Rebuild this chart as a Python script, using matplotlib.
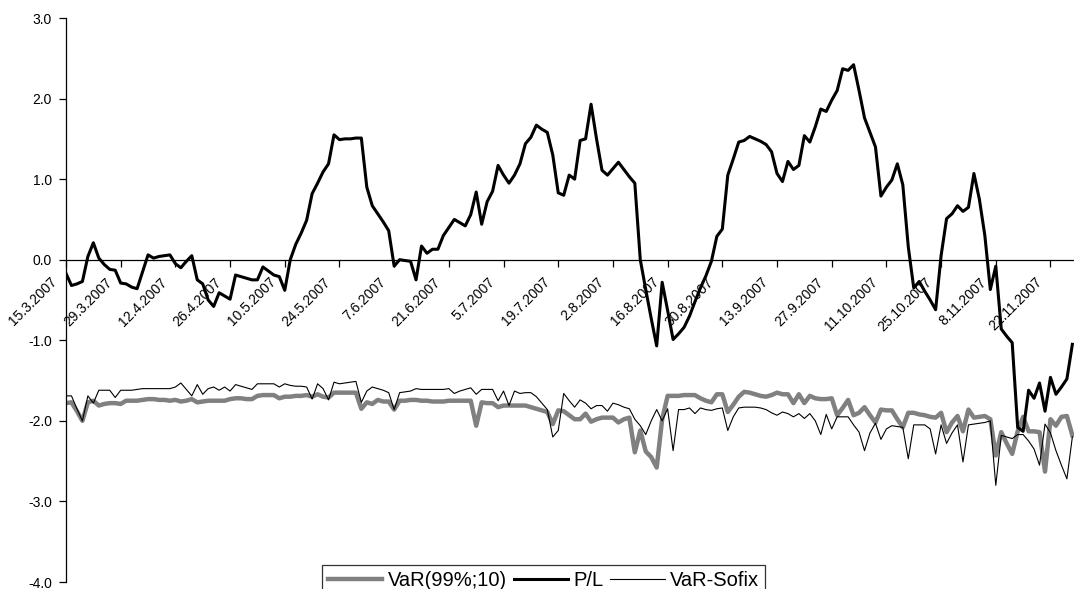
import matplotlib
matplotlib.use('Agg')
import matplotlib.pyplot as plt
import matplotlib.transforms as mtransforms
import numpy as np

# Tick labels (every 10 trading days, starting 15.3.2007)
tick_labels = ['15.3.2007', '29.3.2007', '12.4.2007', '26.4.2007', '10.5.2007',
               '24.5.2007', '7.6.2007', '21.6.2007', '5.7.2007', '19.7.2007',
               '2.8.2007', '16.8.2007', '30.8.2007', '13.9.2007', '27.9.2007',
               '11.10.2007', '25.10.2007', '8.11.2007', '22.11.2007']

# P/L series (one value per trading day)
pl = [-0.17, -0.32, -0.30, -0.27, 0.04, 0.21, 0.02, -0.06, -0.12, -0.13,
      -0.29, -0.30, -0.34, -0.36, -0.15, 0.06, 0.02, 0.04, 0.05, 0.06,
      -0.05, -0.10, -0.02, 0.05, -0.25, -0.30, -0.50, -0.58, -0.41, -0.45,
      -0.49, -0.19, -0.21, -0.23, -0.25, -0.25, -0.09, -0.14, -0.19, -0.21,
      -0.38, 0.00, 0.19, 0.33, 0.49, 0.82, 0.95, 1.09, 1.19, 1.55,
      1.49, 1.50, 1.50, 1.51, 1.51, 0.90, 0.67, 0.57, 0.47, 0.36,
      -0.08, 0.00, -0.01, -0.02, -0.25, 0.17, 0.08, 0.13, 0.13, 0.30,
      0.40, 0.50, 0.46, 0.42, 0.56, 0.84, 0.44, 0.72, 0.85, 1.17,
      1.05, 0.95, 1.05, 1.19, 1.44, 1.52, 1.67, 1.62, 1.58, 1.30,
      0.83, 0.80, 1.05, 1.00, 1.48, 1.50, 1.93, 1.50, 1.11, 1.05,
      1.13, 1.21, 1.12, 1.03, 0.95, 0.00, -0.37, -0.73, -1.07, -0.28,
      -0.63, -0.99, -0.92, -0.84, -0.70, -0.52, -0.35, -0.20, -0.02, 0.29,
      0.38, 1.05, 1.25, 1.46, 1.48, 1.53, 1.50, 1.47, 1.43, 1.34,
      1.07, 0.97, 1.22, 1.12, 1.17, 1.54, 1.46, 1.65, 1.87, 1.84,
      1.98, 2.10, 2.37, 2.35, 2.42, 2.10, 1.76, 1.58, 1.40, 0.79,
      0.90, 0.99, 1.19, 0.93, 0.16, -0.35, -0.27, -0.39, -0.50, -0.62,
      0.05, 0.51, 0.57, 0.67, 0.60, 0.65, 1.07, 0.75, 0.30, -0.37,
      -0.08, -0.86, -0.95, -1.03, -2.08, -2.13, -1.62, -1.72, -1.53, -1.88,
      -1.46, -1.67, -1.58, -1.48, -1.05]

# VaR(99%;10)
var_99 = [-1.78, -1.77, -1.88, -2.00, -1.77, -1.75, -1.81, -1.79, -1.78, -1.78,
          -1.79, -1.75, -1.75, -1.75, -1.74, -1.73, -1.73, -1.74, -1.74, -1.75,
          -1.74, -1.76, -1.75, -1.73, -1.77, -1.76, -1.75, -1.75, -1.75, -1.75,
          -1.73, -1.72, -1.72, -1.73, -1.73, -1.69, -1.68, -1.68, -1.68, -1.72,
          -1.70, -1.70, -1.69, -1.69, -1.68, -1.70, -1.67, -1.70, -1.71, -1.65,
          -1.65, -1.65, -1.65, -1.65, -1.85, -1.77, -1.79, -1.74, -1.76, -1.76,
          -1.86, -1.75, -1.75, -1.74, -1.74, -1.75, -1.75, -1.76, -1.76, -1.76,
          -1.75, -1.75, -1.75, -1.75, -1.75, -2.06, -1.77, -1.78, -1.78, -1.83,
          -1.81, -1.81, -1.81, -1.81, -1.81, -1.83, -1.85, -1.87, -1.89, -2.04,
          -1.87, -1.88, -1.93, -1.98, -1.98, -1.91, -2.01, -1.98, -1.96, -1.96,
          -1.96, -2.02, -1.98, -1.96, -2.39, -2.12, -2.38, -2.45, -2.58, -1.98,
          -1.69, -1.69, -1.69, -1.68, -1.68, -1.68, -1.72, -1.75, -1.77, -1.67,
          -1.67, -1.89, -1.80, -1.70, -1.64, -1.65, -1.67, -1.69, -1.70, -1.68,
          -1.65, -1.67, -1.67, -1.78, -1.67, -1.78, -1.69, -1.72, -1.73, -1.73,
          -1.72, -1.93, -1.84, -1.74, -1.93, -1.90, -1.83, -1.93, -2.02, -1.86,
          -1.87, -1.87, -1.98, -2.08, -1.90, -1.90, -1.92, -1.93, -1.95, -1.96,
          -1.90, -2.14, -2.02, -1.94, -2.13, -1.86, -1.96, -1.95, -1.94, -1.98,
          -2.43, -2.14, -2.28, -2.41, -2.13, -1.95, -2.13, -2.13, -2.14, -2.63,
          -1.98, -2.06, -1.95, -1.94, -2.18]

# VaR-Sofix
var_sofix = [-1.69, -1.69, -1.85, -2.00, -1.69, -1.78, -1.62, -1.62, -1.62, -1.71,
             -1.62, -1.62, -1.62, -1.61, -1.60, -1.60, -1.60, -1.60, -1.60, -1.60,
             -1.58, -1.53, -1.61, -1.69, -1.55, -1.67, -1.60, -1.58, -1.62, -1.58,
             -1.63, -1.55, -1.57, -1.59, -1.61, -1.54, -1.54, -1.54, -1.54, -1.58,
             -1.54, -1.56, -1.57, -1.57, -1.58, -1.73, -1.54, -1.60, -1.74, -1.52,
             -1.54, -1.53, -1.52, -1.51, -1.77, -1.63, -1.58, -1.60, -1.62, -1.65,
             -1.86, -1.65, -1.64, -1.63, -1.60, -1.61, -1.61, -1.61, -1.61, -1.61,
             -1.60, -1.66, -1.63, -1.61, -1.59, -1.67, -1.61, -1.61, -1.61, -1.75,
             -1.63, -1.81, -1.63, -1.66, -1.65, -1.65, -1.70, -1.78, -1.86, -2.20,
             -2.12, -1.66, -1.75, -1.83, -1.74, -1.78, -1.85, -1.81, -1.81, -1.88,
             -1.78, -1.80, -1.83, -1.85, -1.98, -2.06, -2.17, -2.00, -1.86, -2.00,
             -1.85, -2.37, -1.86, -1.86, -1.84, -1.91, -1.84, -1.86, -1.87, -1.85,
             -1.84, -2.12, -1.95, -1.84, -1.83, -1.83, -1.83, -1.84, -1.86, -1.90,
             -1.93, -1.89, -1.91, -1.95, -1.91, -1.97, -1.91, -2.00, -2.17, -1.92,
             -2.10, -1.95, -1.95, -1.95, -2.05, -2.14, -2.37, -2.15, -2.03, -2.23,
             -2.10, -2.06, -2.07, -2.08, -2.47, -2.05, -2.05, -2.05, -2.10, -2.41,
             -2.05, -2.28, -2.15, -2.05, -2.51, -2.05, -2.04, -2.03, -2.02, -2.00,
             -2.80, -2.18, -2.20, -2.22, -2.17, -2.17, -2.25, -2.35, -2.55, -2.04,
             -2.15, -2.37, -2.55, -2.72, -2.20]

plt.rcParams['font.family'] = ['Liberation Sans', 'DejaVu Sans']

fig = plt.figure(figsize=(10.74, 5.89), dpi=100)
# plot area: y axis at x=66 px, 3.0 at y=18 px, -4.0 at y=582 px
ax = fig.add_axes([66 / 1074, 7 / 589, 1 - 66 / 1074, 564 / 589])

x = np.arange(len(pl))
ax.plot(x, var_99, color='#808080', linewidth=3.2, label='VaR(99%;10)')
ax.plot(x, pl, color='black', linewidth=2.2, label='P/L')
ax.plot(x, var_sofix, color='black', linewidth=0.8, label='VaR-Sofix')

ax.set_xlim(0, len(pl) - 0.7)
ax.set_ylim(-4, 3)

# 軸線: y 軸在左邊, x 軸在 0
ax.spines['top'].set_visible(False)
ax.spines['right'].set_visible(False)
ax.spines['bottom'].set_position(('data', 0))
for sp in ['left', 'bottom']:
    ax.spines[sp].set_linewidth(0.9)

yticks = np.arange(-4, 3.5, 1.0)
ax.set_yticks(yticks)
ax.set_yticklabels([f'{v:.1f}' for v in yticks], fontsize=10)
ax.tick_params(axis='y', direction='out', length=5, width=0.9, pad=5)

ax.set_xticks(np.arange(0, 10 * len(tick_labels), 10))
ax.set_xticklabels(tick_labels, rotation=45, ha='right', fontsize=10)
ax.tick_params(axis='x', direction='out', length=5, width=0.9, pad=6)
shift = mtransforms.ScaledTranslation(-6 / 100, 0, fig.dpi_scale_trans)
for lbl in ax.get_xticklabels():
    lbl.set_transform(lbl.get_transform() + shift)

leg = fig.legend(loc='upper left', bbox_to_anchor=(322 / 1074, 1 - 565 / 589),
                 ncol=3, fontsize=14.5, frameon=True, fancybox=False,
                 edgecolor='black', handlelength=2.7, handletextpad=0.25,
                 columnspacing=0.35, borderpad=0.3, borderaxespad=0)
leg.get_frame().set_linewidth(0.9)

fig.savefig('out.png', dpi=100)
